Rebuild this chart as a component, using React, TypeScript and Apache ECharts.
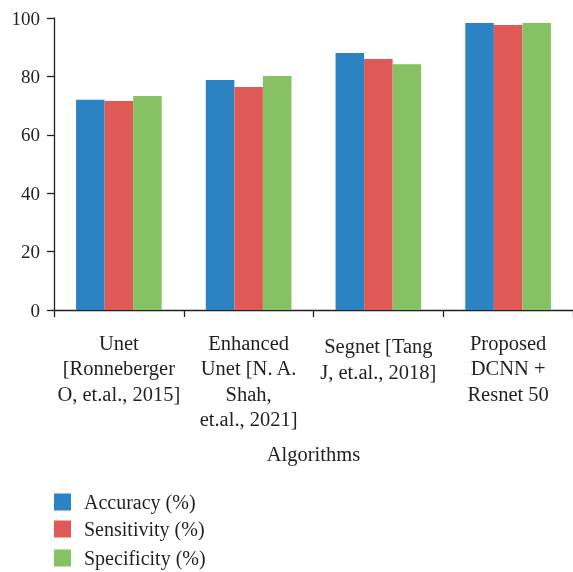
import React, { useEffect, useRef } from "react";
import * as echarts from "echarts";

const categories = [
  "Unet\n[Ronneberger\nO, et.al., 2015]",
  "Enhanced\nUnet [N. A.\nShah,\net.al., 2021]",
  "Segnet [Tang\nJ, et.al., 2018]",
  "Proposed\nDCNN +\nResnet 50",
];
const accuracy = [72, 78.8, 88, 98.3];
const sensitivity = [71.6, 76.4, 86, 97.6];
const specificity = [73.3, 80.1, 84.2, 98.3];
const seriesNames = ["Accuracy (%)", "Sensitivity (%)", "Specificity (%)"];
const yTicks = [0, 20, 40, 60, 80, 100];

const FONT = "Liberation Serif";
const INK = "#231f20";
const COLORS = ["#2b83c3", "#df5956", "#86c263"];
const legendTops = [492, 519, 548];

export default function App() {
  const ref = useRef<HTMLDivElement>(null);
  useEffect(() => {
    if (!ref.current) return;
    const chart = echarts.init(ref.current, undefined, { renderer: "svg" });
    chart.setOption({
      animation: false,
      color: COLORS,
      textStyle: { fontFamily: FONT, color: INK },
      grid: { left: 54, top: 18, width: 522, height: 292 },
      legend: seriesNames.map((n, i) => ({
        orient: "vertical",
        left: 54,
        top: legendTops[i],
        padding: 0,
        itemWidth: 17,
        itemHeight: 17,
        icon: "rect",
        textStyle: { fontFamily: FONT, fontSize: 20, lineHeight: 20, color: INK, padding: [0, 0, 0, 8] },
        data: [n],
      })),
      xAxis: {
        type: "category",
        data: categories,
        name: "Algorithms",
        nameLocation: "middle",
        nameGap: 133,
        nameTextStyle: { fontFamily: FONT, fontSize: 20.5, color: INK },
        axisLine: { lineStyle: { color: INK, width: 1.3 } },
        axisTick: { show: true, length: 7, lineStyle: { color: INK, width: 1.3 } },
        axisLabel: {
          interval: 0,
          margin: 20,
          fontFamily: FONT,
          fontSize: 20.5,
          lineHeight: 25.5,
          color: INK,
          formatter: (v: string, i: number) => (i === 2 ? "{s|" + v.split("\n").join("}\n{s|") + "}" : v),
          rich: { s: { fontFamily: FONT, fontSize: 20.5, lineHeight: 25.5, color: INK, padding: [7, 0, 0, 0] } },
        },
      },
      yAxis: {
        type: "value",
        min: yTicks[0],
        max: yTicks[yTicks.length - 1],
        interval: 20,
        splitLine: { show: false },
        axisLine: { show: true, lineStyle: { color: INK, width: 1.3 } },
        axisTick: { show: true, length: 7, lineStyle: { color: INK, width: 1.3 } },
        axisLabel: { fontFamily: FONT, fontSize: 19, color: INK, margin: 14 },
      },
      series: [
        { name: seriesNames[0], type: "bar", data: accuracy, itemStyle: { color: COLORS[0] }, barGap: "0%", barCategoryGap: "34%" },
        { name: seriesNames[1], type: "bar", data: sensitivity, itemStyle: { color: COLORS[1] }, barGap: "0%", barCategoryGap: "34%" },
        { name: seriesNames[2], type: "bar", data: specificity, itemStyle: { color: COLORS[2] }, barGap: "0%", barCategoryGap: "34%" },
      ],
    });
    return () => chart.dispose();
  }, []);
  return <div ref={ref} style={{ position: "fixed", left: 0, top: 0, width: 573, height: 572 }} />;
}
